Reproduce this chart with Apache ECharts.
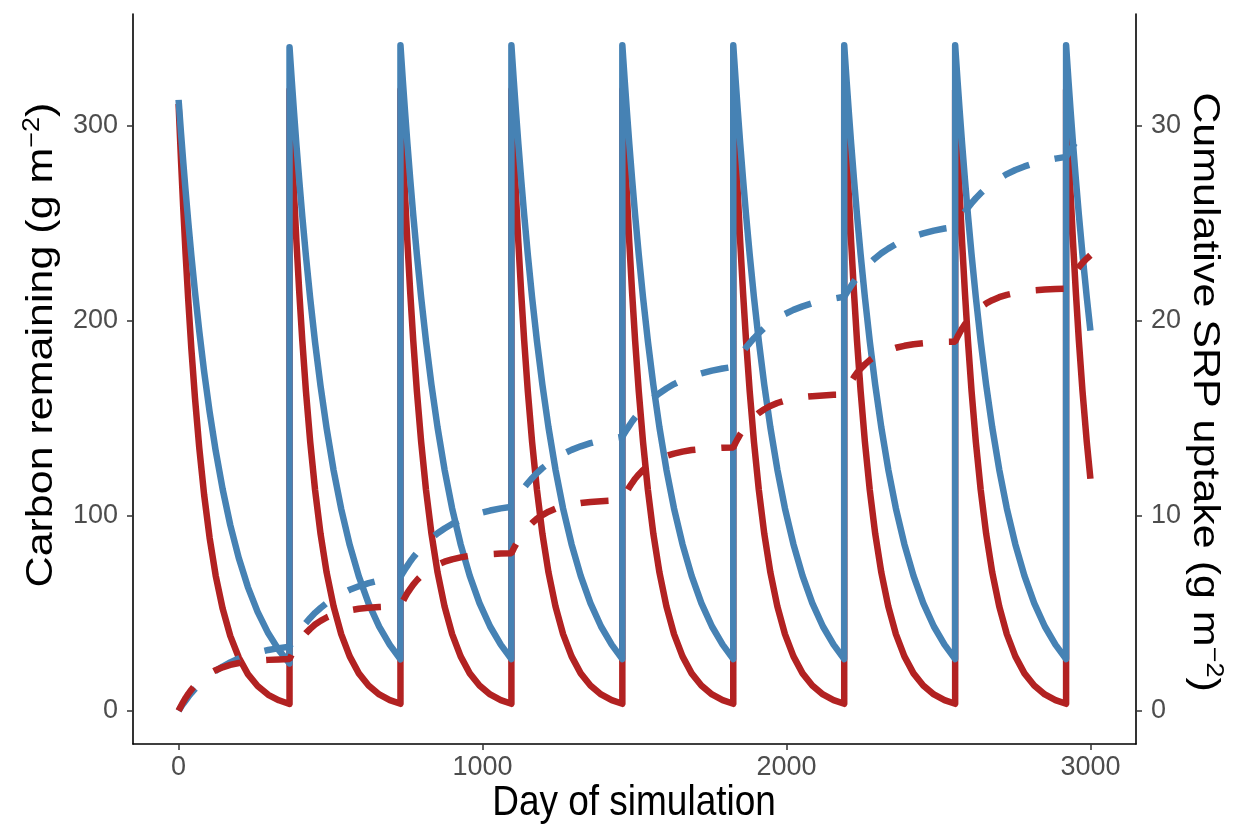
<!DOCTYPE html>
<html>
<head>
<meta charset="utf-8">
<script src="https://cdn.jsdelivr.net/npm/echarts@6/dist/echarts.min.js"></script>
<style>
html,body{margin:0;padding:0;background:#fff;}
#chart{width:1237px;height:824px;}
</style>
</head>
<body>
<div id="chart"></div>
<script>
// Day of simulation (annual litter pulses every 365 days; each pulse day appears twice: before / after)
const days = [
  0,3,8,15,23,32,42,54,68,84,102,122,145,170,198,228,260,295,330,365,
  365,368,373,380,388,397,407,419,433,449,467,487,510,535,563,593,625,660,695,730,
  730,733,738,745,753,762,772,784,798,814,832,852,875,900,928,958,990,1025,1060,1095,
  1095,1098,1103,1110,1118,1127,1137,1149,1163,1179,1197,1217,1240,1265,1293,1323,1355,1390,1425,1460,
  1460,1463,1468,1475,1483,1492,1502,1514,1528,1544,1562,1582,1605,1630,1658,1688,1720,1755,1790,1825,
  1825,1828,1833,1840,1848,1857,1867,1879,1893,1909,1927,1947,1970,1995,2023,2053,2085,2120,2155,2190,
  2190,2193,2198,2205,2213,2222,2232,2244,2258,2274,2292,2312,2335,2360,2388,2418,2450,2485,2520,2555,
  2555,2558,2563,2570,2578,2587,2597,2609,2623,2639,2657,2677,2700,2725,2753,2783,2815,2850,2885,2920,
  2920,2923,2928,2935,2943,2952,2962,2974,2988,3000
];
// Carbon remaining (g m-2), red (fast decay)
const carbonRed = [
  311,299.8,281.9,258.6,234.3,209.9,185.5,160.1,134.8,110.7,88.7,69.3,52.3,38.4,27.3,18.8,12.7,8.2,5.4,3.5,
  318,306.5,288.2,264.4,239.6,214.6,189.7,163.7,137.8,113.2,90.7,70.9,53.5,39.3,27.9,19.2,13.0,8.4,5.5,3.6,
  318,306.5,288.2,264.4,239.6,214.6,189.7,163.7,137.8,113.2,90.7,70.9,53.5,39.3,27.9,19.2,13.0,8.4,5.5,3.6,
  318,306.5,288.2,264.4,239.6,214.6,189.7,163.7,137.8,113.2,90.7,70.9,53.5,39.3,27.9,19.2,13.0,8.4,5.5,3.6,
  318,306.5,288.2,264.4,239.6,214.6,189.7,163.7,137.8,113.2,90.7,70.9,53.5,39.3,27.9,19.2,13.0,8.4,5.5,3.6,
  318,306.5,288.2,264.4,239.6,214.6,189.7,163.7,137.8,113.2,90.7,70.9,53.5,39.3,27.9,19.2,13.0,8.4,5.5,3.6,
  318,306.5,288.2,264.4,239.6,214.6,189.7,163.7,137.8,113.2,90.7,70.9,53.5,39.3,27.9,19.2,13.0,8.4,5.5,3.6,
  318,306.5,288.2,264.4,239.6,214.6,189.7,163.7,137.8,113.2,90.7,70.9,53.5,39.3,27.9,19.2,13.0,8.4,5.5,3.6,
  318,306.5,288.2,264.4,239.6,214.6,189.7,163.7,137.8,118.9
];
// Carbon remaining (g m-2), blue (slow decay)
const carbonBlue = [
  313,306.5,295.9,281.8,266.5,250.2,233.2,214.5,194.5,173.8,153.3,133.3,113.5,95.2,78.3,63.4,50.7,39.7,31.1,24.3,
  340,332.9,321.5,306.1,289.4,271.8,253.4,233.0,211.3,188.8,166.5,144.8,123.2,103.4,85.0,68.9,55.0,43.1,33.8,26.4,
  341,333.9,322.4,307.0,290.3,272.6,254.1,233.7,211.9,189.4,167.0,145.2,123.6,103.7,85.3,69.1,55.2,43.2,33.9,26.5,
  341,333.9,322.4,307.0,290.3,272.6,254.1,233.7,211.9,189.4,167.0,145.2,123.6,103.7,85.3,69.1,55.2,43.2,33.9,26.5,
  341,333.9,322.4,307.0,290.3,272.6,254.1,233.7,211.9,189.4,167.0,145.2,123.6,103.7,85.3,69.1,55.2,43.2,33.9,26.5,
  341,333.9,322.4,307.0,290.3,272.6,254.1,233.7,211.9,189.4,167.0,145.2,123.6,103.7,85.3,69.1,55.2,43.2,33.9,26.5,
  341,333.9,322.4,307.0,290.3,272.6,254.1,233.7,211.9,189.4,167.0,145.2,123.6,103.7,85.3,69.1,55.2,43.2,33.9,26.5,
  341,333.9,322.4,307.0,290.3,272.6,254.1,233.7,211.9,189.4,167.0,145.2,123.6,103.7,85.3,69.1,55.2,43.2,33.9,26.5,
  341,333.9,322.4,307.0,290.3,272.6,254.1,233.7,211.9,194.8
];
// Cumulative SRP uptake (g m-2), red
const srpRed = [
  0,0.10,0.25,0.45,0.66,0.87,1.08,1.30,1.52,1.73,1.92,2.08,2.23,2.35,2.45,2.52,2.57,2.61,2.63,2.65,
  2.65,2.75,2.91,3.11,3.33,3.54,3.76,3.98,4.20,4.42,4.61,4.78,4.93,5.05,5.15,5.23,5.28,5.32,5.35,5.36,
  5.36,5.46,5.62,5.82,6.04,6.25,6.47,6.69,6.91,7.13,7.32,7.49,7.64,7.76,7.86,7.94,7.99,8.03,8.06,8.07,
  8.07,8.17,8.33,8.53,8.75,8.96,9.18,9.40,9.62,9.84,10.03,10.20,10.35,10.47,10.57,10.65,10.70,10.74,10.77,10.78,
  10.78,10.88,11.04,11.24,11.46,11.67,11.89,12.11,12.33,12.55,12.74,12.91,13.06,13.18,13.28,13.36,13.41,13.45,13.48,13.49,
  13.49,13.59,13.75,13.95,14.17,14.38,14.60,14.82,15.04,15.26,15.45,15.62,15.77,15.89,15.99,16.07,16.12,16.16,16.19,16.20,
  16.20,16.30,16.46,16.66,16.88,17.09,17.31,17.53,17.75,17.97,18.16,18.33,18.48,18.60,18.70,18.78,18.83,18.87,18.90,18.91,
  18.91,19.01,19.17,19.37,19.59,19.80,20.02,20.24,20.46,20.68,20.87,21.04,21.19,21.31,21.41,21.49,21.54,21.58,21.61,21.62,
  21.62,21.72,21.88,22.08,22.30,22.51,22.73,22.95,23.17,23.34
];
// Cumulative SRP uptake (g m-2), blue
const srpBlue = [
  0,0.07,0.20,0.36,0.53,0.72,0.91,1.12,1.35,1.59,1.82,2.05,2.27,2.48,2.68,2.85,2.99,3.12,3.21,3.29,
  3.29,3.37,3.50,3.68,3.87,4.07,4.28,4.51,4.76,5.02,5.27,5.52,5.76,5.99,6.20,6.38,6.54,6.68,6.78,6.87,
  6.87,6.95,7.08,7.25,7.44,7.65,7.86,8.09,8.34,8.59,8.85,9.10,9.34,9.57,9.78,9.97,10.12,10.26,10.37,10.45,
  10.45,10.53,10.66,10.84,11.03,11.23,11.44,11.67,11.92,12.18,12.44,12.68,12.93,13.16,13.37,13.55,13.71,13.85,13.95,14.04,
  14.04,14.12,14.25,14.42,14.61,14.82,15.03,15.26,15.51,15.76,16.02,16.27,16.51,16.74,16.95,17.14,17.29,17.43,17.54,17.62,
  17.62,17.70,17.83,18.01,18.20,18.40,18.61,18.84,19.09,19.35,19.61,19.85,20.10,20.33,20.54,20.72,20.88,21.02,21.12,21.21,
  21.21,21.29,21.42,21.59,21.78,21.99,22.20,22.43,22.68,22.93,23.19,23.44,23.68,23.91,24.12,24.31,24.46,24.60,24.71,24.79,
  24.79,24.87,25.00,25.18,25.37,25.57,25.78,26.01,26.26,26.52,26.78,27.02,27.27,27.50,27.71,27.89,28.05,28.19,28.29,28.38,
  28.38,28.46,28.59,28.76,28.95,29.16,29.37,29.60,29.85,30.04
];
const xTicks = [0, 1000, 2000, 3000];
const yLeftTicks = [0, 100, 200, 300];
const yRightTicks = [0, 10, 20, 30];

const RED = '#B22222', BLUE = '#4682B4';
const FONT = '"Liberation Sans", Arial, sans-serif';

// pick a narrow face for tick labels if one is installed (the reference text is horizontally condensed)
function hasFont(name) {
  const c = document.createElement('canvas').getContext('2d');
  c.font = '40px monospace'; const a = c.measureText('0123456789 Day').width;
  c.font = '40px "' + name + '", monospace'; const b = c.measureText('0123456789 Day').width;
  return Math.abs(a - b) > 0.5;
}
const NARROW = hasFont('Liberation Sans Narrow');
const TICK_FONT = NARROW ? '"Liberation Sans Narrow", "Liberation Sans", sans-serif' : FONT;
const TICK_SIZE = NARROW ? 31 : 27;

const pairs = (ys) => days.map((d, i) => [d, ys[i]]);

const axisCommon = {
  axisLine: { show: true, onZero: false, lineStyle: { color: '#000', width: 1.6 } },
  axisTick: { show: true, length: 6, lineStyle: { color: '#333', width: 1.5 } },
  splitLine: { show: false }
};
const tickLabel = (vals, margin) => ({
  customValues: vals, fontSize: TICK_SIZE, color: '#4D4D4D', fontFamily: TICK_FONT, margin: margin,
  formatter: (v) => String(v)
});

const TITLE_SIZE = 43, SQUEEZE = 0.86;
const sup = { fontSize: 27, lineHeight: 27, verticalAlign: 'top', fontFamily: FONT, fill: '#000' };

const chart = echarts.init(document.getElementById('chart'), null, { renderer: 'canvas' });
chart.setOption({
  animation: false,
  backgroundColor: '#fff',
  grid: { left: 133, right: 101, top: 14, bottom: 80 },
  xAxis: Object.assign({}, axisCommon, {
    type: 'value', min: -150, max: 3150,
    axisTick: Object.assign({}, axisCommon.axisTick, { customValues: xTicks }),
    axisLabel: tickLabel(xTicks, 10)
  }),
  yAxis: [
    Object.assign({}, axisCommon, {
      type: 'value', position: 'left', min: -17, max: 357,
      axisTick: Object.assign({}, axisCommon.axisTick, { customValues: yLeftTicks }),
      axisLabel: tickLabel(yLeftTicks, 15)
    }),
    Object.assign({}, axisCommon, {
      type: 'value', position: 'right', min: -1.7, max: 35.7,
      axisTick: Object.assign({}, axisCommon.axisTick, { customValues: yRightTicks }),
      axisLabel: tickLabel(yRightTicks, 15)
    })
  ],
  graphic: [
    { type: 'text', x: 634, y: 803, scaleX: SQUEEZE, silent: true,
      style: { text: 'Day of simulation', fontSize: TITLE_SIZE, fontFamily: FONT, fill: '#000',
               align: 'center', verticalAlign: 'middle' } },
    { type: 'text', x: 42, y: 345, rotation: Math.PI / 2, scaleY: SQUEEZE, silent: true,
      style: { text: 'Carbon remaining (g m{sup|−2})', fontSize: TITLE_SIZE, lineHeight: 50, fontFamily: FONT, fill: '#000',
               align: 'center', verticalAlign: 'middle', rich: { sup: sup } } },
    { type: 'text', x: 1204, y: 392, rotation: -Math.PI / 2, scaleY: SQUEEZE, silent: true,
      style: { text: 'Cumulative SRP uptake (g m{sup|−2})', fontSize: TITLE_SIZE, lineHeight: 50, fontFamily: FONT, fill: '#000',
               align: 'center', verticalAlign: 'middle', rich: { sup: sup } } }
  ],
  series: [
    { type: 'line', yAxisIndex: 0, data: pairs(carbonRed), showSymbol: false, symbol: 'none',
      lineStyle: { color: RED, width: 6.5, cap: 'butt', join: 'round' } },
    { type: 'line', yAxisIndex: 0, data: pairs(carbonBlue), showSymbol: false, symbol: 'none',
      lineStyle: { color: BLUE, width: 6.5, cap: 'butt', join: 'round' } },
    { type: 'line', yAxisIndex: 1, data: pairs(srpBlue), showSymbol: false, symbol: 'none',
      lineStyle: { color: BLUE, width: 6.5, type: [28, 26], cap: 'butt' } },
    { type: 'line', yAxisIndex: 1, data: pairs(srpRed), showSymbol: false, symbol: 'none',
      lineStyle: { color: RED, width: 6.5, type: [28, 26], cap: 'butt' } }
  ]
});
</script>
</body>
</html>
